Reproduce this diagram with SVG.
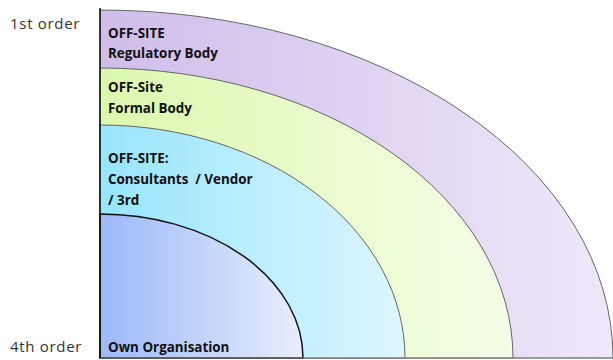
<svg xmlns="http://www.w3.org/2000/svg" width="613" height="360" viewBox="0 0 613 360">
<defs>
<linearGradient id="gP" x1="0" y1="0" x2="1" y2="0"><stop offset="0" stop-color="#CFBDEA"/><stop offset="1" stop-color="#EFE8F9"/></linearGradient>
<linearGradient id="gG" x1="0" y1="0" x2="1" y2="0"><stop offset="0" stop-color="#DCF8AE"/><stop offset="1" stop-color="#F4FEE8"/></linearGradient>
<linearGradient id="gC" x1="0" y1="0" x2="1" y2="0"><stop offset="0" stop-color="#98E5FC"/><stop offset="1" stop-color="#DDF6FE"/></linearGradient>
<linearGradient id="gB" x1="0" y1="0" x2="1" y2="0"><stop offset="0" stop-color="#9CB9FA"/><stop offset="1" stop-color="#E9EEFB"/></linearGradient>
</defs>
<style>
.ring{stroke:#666;stroke-width:1}
.lbl{font-family:"Open Sans","Liberation Sans",sans-serif;font-weight:bold;font-size:13.4px;fill:#111;white-space:pre}
.ord{font-family:"Open Sans","Liberation Sans",sans-serif;font-size:15px;letter-spacing:0.7px;fill:#333}
</style>
<g id="ring-regulatory">
<path class="ring" fill="url(#gP)" d="M100,358 L100,10 A513,348 0 0 1 613,358 Z"/>
<text class="lbl" x="108" y="38">OFF-SITE</text>
<text class="lbl" x="108" y="58">Regulatory Body</text>
</g>
<g id="ring-formal">
<path class="ring" fill="url(#gG)" d="M100,358 L100,68 A413,290 0 0 1 513,358 Z"/>
<text class="lbl" x="108" y="92">OFF-Site</text>
<text class="lbl" x="108" y="113">Formal Body</text>
</g>
<g id="ring-consultants">
<path class="ring" fill="url(#gC)" d="M100,358 L100,125 A305,233 0 0 1 405,358 Z"/>
<text class="lbl" x="108" y="163">OFF-SITE:</text>
<text class="lbl" x="108" y="184">Consultants  / Vendor</text>
<text class="lbl" x="108" y="205">/ 3rd</text>
</g>
<g id="ring-own">
<path fill="url(#gB)" stroke="#111" stroke-width="1.5" d="M100,358 L100,214 A203,144 0 0 1 303,358 Z"/>
<text class="lbl" x="108" y="352">Own Organisation</text>
</g>
<g id="connectors">
<line x1="100" y1="358" x2="613" y2="358" stroke="#888" stroke-width="1"/>
<line x1="100" y1="8" x2="100" y2="358" stroke="#111" stroke-width="1.5"/>
</g>
<text class="ord" x="10" y="29">1st order</text>
<text class="ord" x="10" y="352">4th order</text>
</svg>
